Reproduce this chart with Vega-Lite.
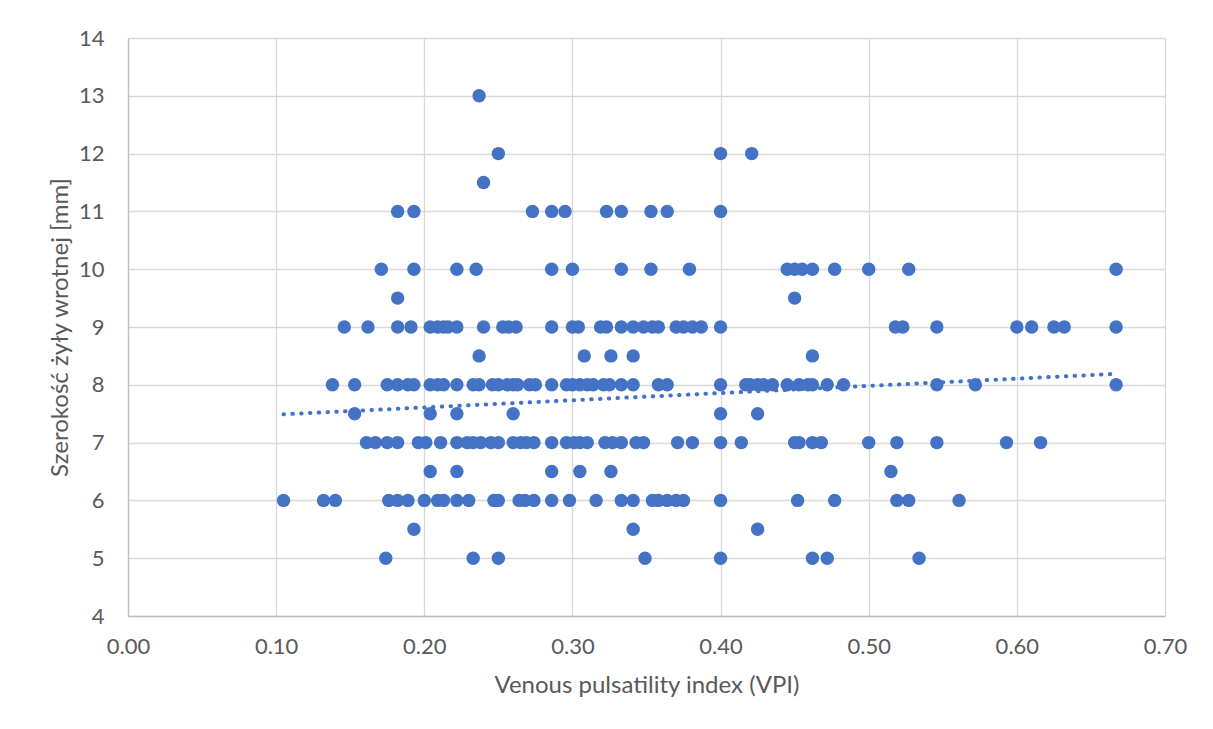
{
  "$schema": "https://vega.github.io/schema/vega-lite/v6.json",
  "width": 1037,
  "height": 578,
  "autosize": {"type": "none"},
  "padding": {"left": 128, "top": 38, "right": 48, "bottom": 113},
  "background": "white",
  "config": {
    "view": {"stroke": null},
    "font": "Lato",
    "axis": {
      "grid": true,
      "gridColor": "#d9d9d9",
      "gridWidth": 1.3,
      "domain": true,
      "domainColor": "#bfbfbf",
      "domainWidth": 1.3,
      "ticks": false,
      "labelFlush": false,
      "labelOverlap": false,
      "labelColor": "#595959",
      "labelFont": "Lato",
      "labelFontSize": 22,
      "titleColor": "#595959",
      "titleFont": "Lato",
      "titleFontSize": 24,
      "titleFontWeight": "normal"
    }
  },
  "datasets": {
    "pts": [
      {"vpi": 0.237, "mm": 13},
      {"vpi": 0.250, "mm": 12}, {"vpi": 0.400, "mm": 12}, {"vpi": 0.421, "mm": 12},
      {"vpi": 0.240, "mm": 11.5},
      {"vpi": 0.182, "mm": 11}, {"vpi": 0.193, "mm": 11}, {"vpi": 0.273, "mm": 11}, {"vpi": 0.286, "mm": 11}, {"vpi": 0.295, "mm": 11}, {"vpi": 0.323, "mm": 11}, {"vpi": 0.333, "mm": 11}, {"vpi": 0.353, "mm": 11}, {"vpi": 0.364, "mm": 11}, {"vpi": 0.400, "mm": 11},
      {"vpi": 0.171, "mm": 10}, {"vpi": 0.193, "mm": 10}, {"vpi": 0.222, "mm": 10}, {"vpi": 0.235, "mm": 10}, {"vpi": 0.286, "mm": 10}, {"vpi": 0.300, "mm": 10}, {"vpi": 0.333, "mm": 10}, {"vpi": 0.353, "mm": 10}, {"vpi": 0.379, "mm": 10}, {"vpi": 0.445, "mm": 10}, {"vpi": 0.450, "mm": 10}, {"vpi": 0.455, "mm": 10}, {"vpi": 0.462, "mm": 10}, {"vpi": 0.477, "mm": 10}, {"vpi": 0.500, "mm": 10}, {"vpi": 0.527, "mm": 10}, {"vpi": 0.667, "mm": 10},
      {"vpi": 0.182, "mm": 9.5}, {"vpi": 0.450, "mm": 9.5},
      {"vpi": 0.146, "mm": 9}, {"vpi": 0.162, "mm": 9}, {"vpi": 0.182, "mm": 9}, {"vpi": 0.191, "mm": 9}, {"vpi": 0.204, "mm": 9}, {"vpi": 0.209, "mm": 9}, {"vpi": 0.213, "mm": 9}, {"vpi": 0.216, "mm": 9}, {"vpi": 0.222, "mm": 9}, {"vpi": 0.240, "mm": 9}, {"vpi": 0.253, "mm": 9}, {"vpi": 0.257, "mm": 9}, {"vpi": 0.262, "mm": 9}, {"vpi": 0.286, "mm": 9}, {"vpi": 0.300, "mm": 9}, {"vpi": 0.304, "mm": 9}, {"vpi": 0.319, "mm": 9}, {"vpi": 0.323, "mm": 9}, {"vpi": 0.333, "mm": 9}, {"vpi": 0.341, "mm": 9}, {"vpi": 0.348, "mm": 9}, {"vpi": 0.354, "mm": 9}, {"vpi": 0.358, "mm": 9}, {"vpi": 0.370, "mm": 9}, {"vpi": 0.375, "mm": 9}, {"vpi": 0.381, "mm": 9}, {"vpi": 0.387, "mm": 9}, {"vpi": 0.400, "mm": 9}, {"vpi": 0.518, "mm": 9}, {"vpi": 0.523, "mm": 9}, {"vpi": 0.546, "mm": 9}, {"vpi": 0.600, "mm": 9}, {"vpi": 0.610, "mm": 9}, {"vpi": 0.625, "mm": 9}, {"vpi": 0.632, "mm": 9}, {"vpi": 0.667, "mm": 9},
      {"vpi": 0.237, "mm": 8.5}, {"vpi": 0.308, "mm": 8.5}, {"vpi": 0.326, "mm": 8.5}, {"vpi": 0.341, "mm": 8.5}, {"vpi": 0.462, "mm": 8.5},
      {"vpi": 0.138, "mm": 8}, {"vpi": 0.153, "mm": 8}, {"vpi": 0.175, "mm": 8}, {"vpi": 0.182, "mm": 8}, {"vpi": 0.189, "mm": 8}, {"vpi": 0.193, "mm": 8}, {"vpi": 0.204, "mm": 8}, {"vpi": 0.209, "mm": 8}, {"vpi": 0.213, "mm": 8}, {"vpi": 0.222, "mm": 8}, {"vpi": 0.233, "mm": 8}, {"vpi": 0.237, "mm": 8}, {"vpi": 0.246, "mm": 8}, {"vpi": 0.250, "mm": 8}, {"vpi": 0.256, "mm": 8}, {"vpi": 0.260, "mm": 8}, {"vpi": 0.263, "mm": 8}, {"vpi": 0.271, "mm": 8}, {"vpi": 0.275, "mm": 8}, {"vpi": 0.286, "mm": 8}, {"vpi": 0.296, "mm": 8}, {"vpi": 0.300, "mm": 8}, {"vpi": 0.305, "mm": 8}, {"vpi": 0.310, "mm": 8}, {"vpi": 0.314, "mm": 8}, {"vpi": 0.321, "mm": 8}, {"vpi": 0.325, "mm": 8}, {"vpi": 0.333, "mm": 8}, {"vpi": 0.341, "mm": 8}, {"vpi": 0.358, "mm": 8}, {"vpi": 0.364, "mm": 8}, {"vpi": 0.400, "mm": 8}, {"vpi": 0.417, "mm": 8}, {"vpi": 0.420, "mm": 8}, {"vpi": 0.425, "mm": 8}, {"vpi": 0.429, "mm": 8}, {"vpi": 0.435, "mm": 8}, {"vpi": 0.445, "mm": 8}, {"vpi": 0.453, "mm": 8}, {"vpi": 0.459, "mm": 8}, {"vpi": 0.462, "mm": 8}, {"vpi": 0.472, "mm": 8}, {"vpi": 0.483, "mm": 8}, {"vpi": 0.546, "mm": 8}, {"vpi": 0.572, "mm": 8}, {"vpi": 0.667, "mm": 8},
      {"vpi": 0.153, "mm": 7.5}, {"vpi": 0.204, "mm": 7.5}, {"vpi": 0.222, "mm": 7.5}, {"vpi": 0.260, "mm": 7.5}, {"vpi": 0.400, "mm": 7.5}, {"vpi": 0.425, "mm": 7.5},
      {"vpi": 0.161, "mm": 7}, {"vpi": 0.167, "mm": 7}, {"vpi": 0.175, "mm": 7}, {"vpi": 0.182, "mm": 7}, {"vpi": 0.196, "mm": 7}, {"vpi": 0.201, "mm": 7}, {"vpi": 0.211, "mm": 7}, {"vpi": 0.222, "mm": 7}, {"vpi": 0.229, "mm": 7}, {"vpi": 0.233, "mm": 7}, {"vpi": 0.238, "mm": 7}, {"vpi": 0.245, "mm": 7}, {"vpi": 0.250, "mm": 7}, {"vpi": 0.260, "mm": 7}, {"vpi": 0.265, "mm": 7}, {"vpi": 0.269, "mm": 7}, {"vpi": 0.274, "mm": 7}, {"vpi": 0.286, "mm": 7}, {"vpi": 0.296, "mm": 7}, {"vpi": 0.301, "mm": 7}, {"vpi": 0.305, "mm": 7}, {"vpi": 0.310, "mm": 7}, {"vpi": 0.322, "mm": 7}, {"vpi": 0.327, "mm": 7}, {"vpi": 0.333, "mm": 7}, {"vpi": 0.343, "mm": 7}, {"vpi": 0.348, "mm": 7}, {"vpi": 0.371, "mm": 7}, {"vpi": 0.381, "mm": 7}, {"vpi": 0.400, "mm": 7}, {"vpi": 0.414, "mm": 7}, {"vpi": 0.450, "mm": 7}, {"vpi": 0.453, "mm": 7}, {"vpi": 0.462, "mm": 7}, {"vpi": 0.468, "mm": 7}, {"vpi": 0.500, "mm": 7}, {"vpi": 0.519, "mm": 7}, {"vpi": 0.546, "mm": 7}, {"vpi": 0.593, "mm": 7}, {"vpi": 0.616, "mm": 7},
      {"vpi": 0.204, "mm": 6.5}, {"vpi": 0.222, "mm": 6.5}, {"vpi": 0.286, "mm": 6.5}, {"vpi": 0.305, "mm": 6.5}, {"vpi": 0.326, "mm": 6.5}, {"vpi": 0.515, "mm": 6.5},
      {"vpi": 0.105, "mm": 6}, {"vpi": 0.132, "mm": 6}, {"vpi": 0.140, "mm": 6}, {"vpi": 0.176, "mm": 6}, {"vpi": 0.182, "mm": 6}, {"vpi": 0.189, "mm": 6}, {"vpi": 0.200, "mm": 6}, {"vpi": 0.209, "mm": 6}, {"vpi": 0.213, "mm": 6}, {"vpi": 0.222, "mm": 6}, {"vpi": 0.230, "mm": 6}, {"vpi": 0.247, "mm": 6}, {"vpi": 0.250, "mm": 6}, {"vpi": 0.264, "mm": 6}, {"vpi": 0.268, "mm": 6}, {"vpi": 0.274, "mm": 6}, {"vpi": 0.286, "mm": 6}, {"vpi": 0.298, "mm": 6}, {"vpi": 0.316, "mm": 6}, {"vpi": 0.333, "mm": 6}, {"vpi": 0.341, "mm": 6}, {"vpi": 0.354, "mm": 6}, {"vpi": 0.358, "mm": 6}, {"vpi": 0.364, "mm": 6}, {"vpi": 0.370, "mm": 6}, {"vpi": 0.375, "mm": 6}, {"vpi": 0.400, "mm": 6}, {"vpi": 0.452, "mm": 6}, {"vpi": 0.477, "mm": 6}, {"vpi": 0.519, "mm": 6}, {"vpi": 0.527, "mm": 6}, {"vpi": 0.561, "mm": 6},
      {"vpi": 0.193, "mm": 5.5}, {"vpi": 0.341, "mm": 5.5}, {"vpi": 0.425, "mm": 5.5},
      {"vpi": 0.174, "mm": 5}, {"vpi": 0.233, "mm": 5}, {"vpi": 0.250, "mm": 5}, {"vpi": 0.349, "mm": 5}, {"vpi": 0.400, "mm": 5}, {"vpi": 0.462, "mm": 5}, {"vpi": 0.472, "mm": 5}, {"vpi": 0.534, "mm": 5}
    ],
    "trend": [
      {"vpi": 0.105, "mm": 7.49},
      {"vpi": 0.667, "mm": 8.19}
    ]
  },
  "layer": [
    {
      "data": {"name": "pts"},
      "mark": {"type": "circle", "size": 180, "color": "#4472C4", "opacity": 1},
      "encoding": {
        "x": {"field": "vpi", "type": "quantitative", "scale": {"domain": [0, 0.7], "nice": false, "zero": false},
              "axis": {"title": "Venous pulsatility index (VPI)", "format": ".2f", "values": [0, 0.1, 0.2, 0.3, 0.4, 0.5, 0.6, 0.7], "labelPadding": 20, "titlePadding": 16}},
        "y": {"field": "mm", "type": "quantitative", "scale": {"domain": [4, 14], "nice": false, "zero": false},
              "axis": {"title": "Szerokość żyły wrotnej [mm]", "format": "d", "values": [4, 5, 6, 7, 8, 9, 10, 11, 12, 13, 14], "labelPadding": 24, "titlePadding": 6}}
      }
    },
    {
      "data": {"name": "trend"},
      "mark": {"type": "line", "color": "#4472C4", "strokeWidth": 4, "strokeDash": [0.5, 8.3], "strokeCap": "round"},
      "encoding": {
        "x": {"field": "vpi", "type": "quantitative"},
        "y": {"field": "mm", "type": "quantitative"}
      }
    }
  ]
}
